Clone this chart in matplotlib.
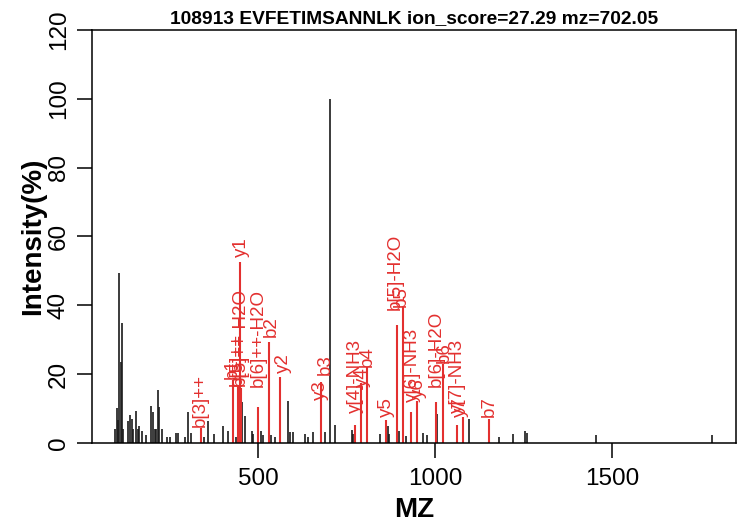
"""
Annotated MS/MS spectrum (R base-graphics look)
"""
import matplotlib
matplotlib.use('Agg')
import matplotlib.pyplot as plt

title = '108913 EVFETIMSANNLK ion_score=27.29 mz=702.05'

# unmatched peaks (m/z, relative intensity %)
black_mz = [96, 101, 105, 108, 112, 117, 120, 134, 138, 143, 146, 155, 160,
            163, 171, 184, 198, 203, 209, 212, 217, 220, 228, 242, 251, 267,
            273, 294, 301, 311, 346, 358, 377, 402, 414, 437, 456, 463, 482,
            487, 508, 514, 536, 548, 584, 590, 599, 633, 640, 656, 689, 702,
            717, 765, 769, 808, 845, 866, 871, 893, 899, 918, 967, 977, 1006,
            1097, 1181, 1221, 1254, 1261, 1455, 1782]
black_int = [4.1, 10.1, 6.8, 49.4, 23.5, 35.0, 4.0, 6.3, 8.2, 7.0, 4.0, 9.4,
             4.0, 5.0, 3.4, 2.4, 10.8, 9.1, 4.0, 4.0, 15.4, 10.5, 4.1, 1.7,
             1.7, 2.8, 2.9, 1.7, 9.1, 2.8, 1.7, 6.5, 2.7, 4.8, 3.5, 1.7, 12.0,
             7.9, 3.4, 2.7, 3.4, 2.4, 2.2, 1.7, 12.3, 3.3, 3.1, 2.7, 1.7, 3.3,
             3.3, 100.0, 5.2, 3.9, 2.5, 8.5, 2.5, 5.0, 2.5, 9.0, 3.4, 2.0, 2.8,
             2.4, 8.5, 6.9, 1.8, 2.6, 3.5, 2.8, 2.2, 2.2]

# matched fragment peaks
red_mz = [338, 430, 444, 449, 451, 501, 531, 562, 677, 774, 791, 807, 862,
          892, 909, 932, 948, 1003, 1023, 1063, 1080, 1153]
red_int = [4.4, 18.3, 16.5, 52.7, 16.0, 10.4, 29.4, 19.1, 17.8, 5.2, 17.4,
           22.2, 6.7, 34.3, 39.4, 9.1, 12.2, 12.0, 23.0, 5.2, 7.5, 7.1]

# fragment labels (text, m/z, intensity where the label starts)
label_text = ['b[3]++', 'b1', 'b[5]++', 'b[5]++-H2O', 'y1', 'b[6]++-H2O',
              'b2', 'y2', 'y3', 'b3', 'y[4]-NH3', 'y4', 'b4', 'y5',
              'b[5]-H2O', 'b5', 'y[6]-NH3', 'y6', 'b[6]-H2O', 'b6',
              'y[7]-NH3', 'y7', 'b7']
label_mz = [336, 428, 442, 449, 452, 500, 537, 571, 675, 689, 774, 794, 808,
            864, 889, 905, 935, 952, 1003, 1025, 1062, 1073, 1153]
label_int = [4.7, 18.5, 16.5, 16.5, 54.0, 16.3, 30.8, 20.3, 12.5, 19.8, 8.7,
             16.4, 22.2, 7.6, 38.7, 39.5, 12.0, 13.0, 16.3, 23.3, 8.7, 7.6,
             7.6]

plt.rcParams['font.family'] = ['Liberation Sans', 'DejaVu Sans']

fig = plt.figure(figsize=(7.46, 5.27), dpi=100)
ax = fig.add_axes([0.1233, 0.1594, 0.8633, 0.7837])

ax.vlines(black_mz, 0, black_int, color='#1a1a1a', lw=1.2)
ax.vlines(red_mz, 0, red_int, color='#e3302f', lw=1.5)
for txt, x, y in zip(label_text, label_mz, label_int):
    ax.text(x, y, txt, rotation=90, ha='center', va='bottom',
            color='#e3302f', fontsize=13.5)

ax.set_xlim(31, 1850)
ax.set_ylim(0, 120)
ax.set_xticks([500, 1000, 1500])
ax.set_yticks(range(0, 121, 20))
ax.set_yticklabels([str(v) for v in range(0, 121, 20)], rotation=90,
                   va='center')
ax.tick_params(direction='out', length=11, width=1.1, labelsize=17.5)
ax.tick_params(axis='x', pad=7)
ax.tick_params(axis='y', pad=5)
for sp in ax.spines.values():
    sp.set_linewidth(1.1)

ax.set_title(title, fontsize=13.8, fontweight='bold', pad=5)
ax.set_xlabel('MZ', fontsize=20, fontweight='bold', labelpad=5)
ax.set_ylabel('Intensity(%)', fontsize=20, fontweight='bold', labelpad=1)

fig.savefig('out.png', dpi=100)
